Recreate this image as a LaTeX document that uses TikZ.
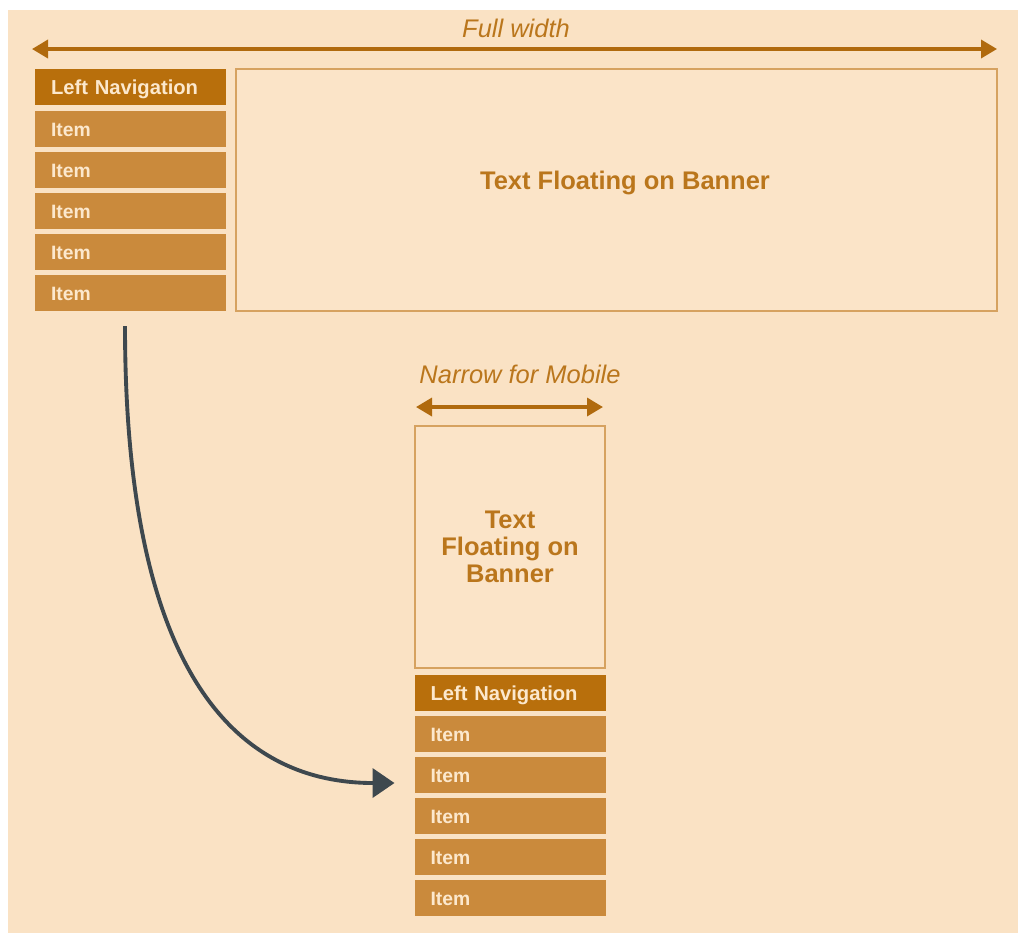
\documentclass[tikz,border=0pt]{standalone}
\usepackage{fontspec}
\setmainfont{Liberation Sans}
\definecolor{pagebg}  {RGB}{250,226,196}
\definecolor{banfill} {RGB}{251,228,200}
\definecolor{banline} {RGB}{214,162,96}
\definecolor{navdark} {RGB}{184,111,12}
\definecolor{navmid}  {RGB}{202,138,60}
\definecolor{navtext} {RGB}{252,232,205}
\definecolor{ochre}   {RGB}{186,118,28}
\definecolor{arrbrown}{RGB}{176,106,14}
\definecolor{slate}   {RGB}{62,72,78}
\usetikzlibrary{arrows.meta,positioning}
\tikzset{
  navhead/.style={rectangle,fill=navdark,text=navtext,
                  minimum height=7.2mm,text width=31.8mm,align=left,
                  inner xsep=3.2mm,inner ysep=0pt,outer sep=0pt,
                  text height=8pt,text depth=0pt,
                  font=\fontsize{11.5}{13}\selectfont\bfseries},
  navitem/.style={navhead,fill=navmid,
                  font=\fontsize{11}{13}\selectfont\bfseries},
  banner/.style={rectangle,draw=banline,fill=banfill,line width=0.6pt,
                 minimum height=48.4mm,inner sep=0pt,outer sep=0pt,
                 text=ochre,align=center,
                 font=\fontsize{14.5}{15.5}\selectfont\bfseries},
}

\begin{document}
\begin{tikzpicture}[
        x=0.2mm, y=0.2mm,
        lbl/.style={text=ochre, font=\fontsize{14.5}{16}\selectfont\itshape},
        warr/.style={{Triangle[length=3.2mm,width=3.6mm]}-{Triangle[length=3.2mm,width=3.6mm]},
                     line width=2pt, color=arrbrown},
        move/.style={-{Triangle[length=4.4mm,width=5.8mm]}, line width=2.2pt, color=slate}
      ]
        % page and margins
        \useasboundingbox (0,0) rectangle (1018,-933);
        \fill[white] (0,0) rectangle (1018,-933);
        \fill[pagebg] (8,-10) rectangle (1018,-933);

        % Full width arrow
        \node[lbl] (fwlabel) at (516,-28) {Full width};
        \coordinate (fwl) at (32,-49);
        \coordinate (fwr) at (997,-49);
        \draw[warr] (fwl) -- (fwr);

        % Left navigation — desktop
        \node[navhead] (lnav) at (130.5,-87) {Left Navigation};
        \node[navitem, below=1.2mm of lnav] (lit1) {Item};
        \node[navitem, below=1mm of lit1] (lit2) {Item};
        \node[navitem, below=1mm of lit2] (lit3) {Item};
        \node[navitem, below=1mm of lit3] (lit4) {Item};
        \node[navitem, below=1mm of lit4] (lit5) {Item};

        % Banner — desktop
        \node[banner, minimum width=152.2mm] (ban) at (616.5,-190) {};
        \node[text=ochre, font=\fontsize{14.5}{16}\selectfont\bfseries]
          (bantxt) at ([xshift=1.7mm, yshift=1.5mm]ban.center) {Text Floating on Banner};

        % Narrow for Mobile arrow
        \node[lbl] (nwlabel) at (520,-374) {Narrow for Mobile};
        \coordinate (nwl) at (416,-407);
        \coordinate (nwr) at (603,-407);
        \draw[warr] (nwl) -- (nwr);

        % Banner — mobile
        \node[banner, minimum width=38mm] (mban) at (510,-547) {Text\\Floating on\\Banner};

        % Left navigation — mobile
        \node[navhead, below=1.4mm of mban] (mnav) {Left Navigation};
        \node[navitem, below=1mm of mnav] (mit1) {Item};
        \node[navitem, below=1mm of mit1] (mit2) {Item};
        \node[navitem, below=1mm of mit2] (mit3) {Item};
        \node[navitem, below=1mm of mit3] (mit4) {Item};
        \node[navitem, below=1mm of mit4] (mit5) {Item};

        % nav moves below the banner
        \coordinate (cstart) at ([xshift=-1.1mm, yshift=-3mm]lit5.south);
        \coordinate (cend) at ([xshift=-4mm, yshift=-1.6mm]mit2.west);
        \draw[move] (cstart) .. controls +(0,-360) and +(-150,0) .. (cend);

      \end{tikzpicture}
\end{document}
